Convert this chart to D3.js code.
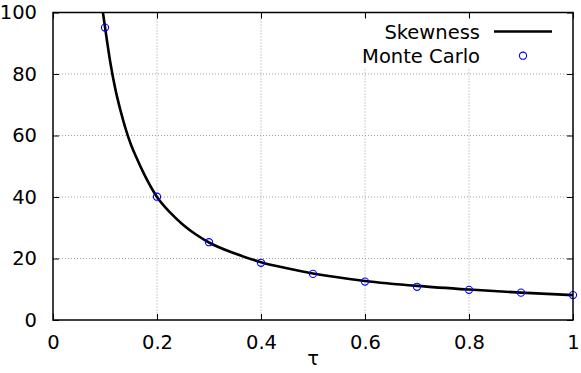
<!DOCTYPE html>
<html>
<head>
<meta charset="utf-8">
<script src="https://cdn.jsdelivr.net/npm/d3@7"></script>
<style>
  body { margin: 0; background: #fff; }
  svg { display: block; font-family: "DejaVu Sans", sans-serif; }
</style>
</head>
<body>
<div id="chart"></div>
<script>
// curve
const curveTau = [0.096, 0.1, 0.11, 0.12, 0.13, 0.14, 0.15, 0.16, 0.175, 0.2, 0.225, 0.25, 0.275, 0.3, 0.35, 0.4, 0.45, 0.5, 0.6, 0.7, 0.8, 0.9, 1.0];
const curveSkew = [100, 95.3, 84, 75, 68, 62, 57, 53, 47.5, 40, 35, 31, 27.8, 25.2, 21.6, 18.8, 16.8, 15.1, 12.7, 11.1, 9.9, 8.9, 8.1];

// Monte Carlo points
const mcTau = [0.1, 0.2, 0.3, 0.4, 0.5, 0.6, 0.7, 0.8, 0.9, 1.0];
const mcSkew = [95.1, 40.1, 25.3, 18.6, 15.0, 12.5, 10.8, 9.8, 8.9, 8.1];

const xTicks = [0, 0.2, 0.4, 0.6, 0.8, 1];
const yTicks = [0, 20, 40, 60, 80, 100];

const W = 581, H = 373;
const margin = { top: 12.5, right: 8, bottom: 53, left: 53 };
const width = W - margin.left - margin.right;
const height = H - margin.top - margin.bottom;

const svg = d3.select("#chart").append("svg")
  .attr("width", W).attr("height", H);

const g = svg.append("g")
  .attr("transform", `translate(${margin.left},${margin.top})`);

const x = d3.scaleLinear().domain([0, 1]).range([0, width]);
const y = d3.scaleLinear().domain([0, 100]).range([height, 0]);

// dotted grid
g.append("g").selectAll("line")
  .data(xTicks.slice(1, -1)).enter().append("line")
  .attr("x1", d => x(d)).attr("x2", d => x(d))
  .attr("y1", 0).attr("y2", height)
  .attr("stroke", "#a0a0a0").attr("stroke-width", 1)
  .attr("stroke-dasharray", "1,2");
g.append("g").selectAll("line")
  .data(yTicks.slice(1, -1)).enter().append("line")
  .attr("x1", 0).attr("x2", width)
  .attr("y1", d => y(d)).attr("y2", d => y(d))
  .attr("stroke", "#a0a0a0").attr("stroke-width", 1)
  .attr("stroke-dasharray", "1,2");

// legend background hides grid
g.append("rect")
  .attr("x", 300).attr("y", 6)
  .attr("width", width - 301).attr("height", 49)
  .attr("fill", "#fff");

// axes with inward ticks
const fmt = d => d === 0 || d === 1 ? String(d) : String(d);
g.append("g")
  .attr("transform", `translate(0,${height})`)
  .call(d3.axisBottom(x).tickValues(xTicks).tickSize(-6).tickPadding(15).tickFormat(fmt).tickSizeOuter(0))
  .call(a => a.select(".domain").remove());
g.append("g")
  .call(d3.axisTop(x).tickValues(xTicks).tickSize(-6).tickFormat("").tickSizeOuter(0))
  .call(a => a.select(".domain").remove());
g.append("g")
  .call(d3.axisLeft(y).tickValues(yTicks).tickSize(-6).tickPadding(16).tickSizeOuter(0))
  .call(a => a.select(".domain").remove());
g.append("g")
  .attr("transform", `translate(${width},0)`)
  .call(d3.axisRight(y).tickValues(yTicks).tickSize(-6).tickFormat("").tickSizeOuter(0))
  .call(a => a.select(".domain").remove());

g.selectAll(".tick text")
  .attr("font-family", "DejaVu Sans, sans-serif")
  .attr("font-size", "19.5px").attr("fill", "#000");
g.selectAll(".tick line").attr("stroke", "#000").attr("stroke-width", 1);

// clip region
g.append("clipPath").attr("id", "clip")
  .append("rect").attr("width", width).attr("height", height);

const line = d3.line()
  .x((d, i) => x(curveTau[i]))
  .y((d, i) => y(curveSkew[i]))
  .curve(d3.curveMonotoneX);

g.append("path")
  .attr("clip-path", "url(#clip)")
  .attr("d", line(curveTau))
  .attr("fill", "none")
  .attr("stroke", "#000")
  .attr("stroke-width", 2.6);

g.selectAll(".mc").data(mcTau).enter().append("circle")
  .attr("cx", (d, i) => x(d))
  .attr("cy", (d, i) => y(mcSkew[i]))
  .attr("r", 3.6)
  .attr("fill", "none")
  .attr("stroke", "#0000ff")
  .attr("stroke-width", 1.1);

// frame
g.append("rect")
  .attr("width", width).attr("height", height)
  .attr("fill", "none").attr("stroke", "#000").attr("stroke-width", 1.5);

// legend
const lg = svg.append("g");
lg.append("text").attr("x", 480).attr("y", 38.5)
  .attr("text-anchor", "end").attr("font-size", "19.5px").text("Skewness");
lg.append("line").attr("x1", 494).attr("x2", 552).attr("y1", 31.5).attr("y2", 31.5)
  .attr("stroke", "#000").attr("stroke-width", 2.6);
lg.append("text").attr("x", 480).attr("y", 63)
  .attr("text-anchor", "end").attr("font-size", "19.5px").text("Monte Carlo");
lg.append("circle").attr("cx", 523).attr("cy", 55.7).attr("r", 3.6)
  .attr("fill", "none").attr("stroke", "#0000ff").attr("stroke-width", 1.1);

// x label
svg.append("text")
  .attr("x", margin.left + width / 2).attr("y", 365)
  .attr("text-anchor", "middle").attr("font-size", "19.5px")
  .text("τ");
</script>
</body>
</html>
